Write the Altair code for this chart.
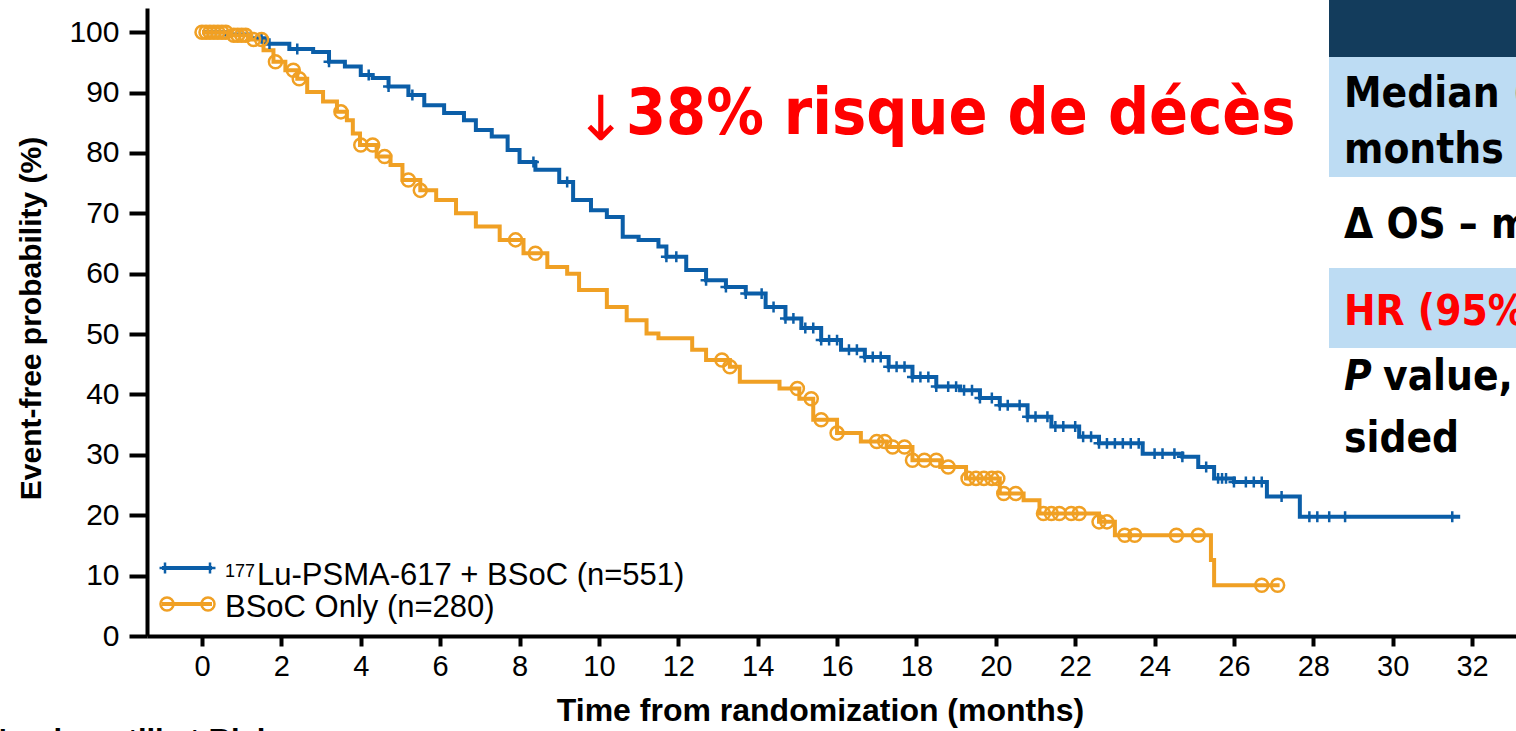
import altair as alt
import pandas as pd

# ---------------- data ----------------
blue_t = [0, 0.6, 1.2, 1.6, 2.2, 2.8, 3.2, 3.6, 4.0, 4.3, 4.7, 5.2, 5.6, 6.1, 6.6, 6.9, 7.3,
          7.7, 8.0, 8.4, 9.0, 9.35, 9.8, 10.2, 10.6, 11.0, 11.5, 11.7, 12.2, 12.7, 13.2, 13.7,
          14.2, 14.7, 15.1, 15.6, 16.1, 16.7, 17.3, 17.9, 18.5, 19.1, 19.6, 20.1, 20.8, 21.4,
          22.1, 22.6, 23.7, 24.7, 25.1, 25.5, 26.0, 26.83, 27.66, 31.7]
blue_s = [100, 99.6, 99.0, 98.1, 97.2, 96.7, 95.1, 94.3, 92.9, 92.4, 91.0, 89.6, 87.9, 86.6,
          85.4, 83.8, 82.7, 80.5, 78.5, 77.2, 75.2, 72.2, 70.5, 69.4, 66.1, 65.6, 64.5, 62.8,
          60.6, 58.9, 57.8, 56.7, 54.5, 52.6, 51.0, 49.0, 47.4, 46.2, 44.6, 42.9, 41.3, 40.7,
          39.4, 38.2, 36.3, 34.7, 33.0, 31.9, 30.2, 29.7, 28.0, 26.1, 25.5, 23.1, 19.75, 19.75]

orange_t = [0, 0.7, 1.2, 1.55, 1.8, 2.1, 2.4, 2.65, 3.05, 3.4, 3.65, 3.8, 3.98, 4.4, 4.75,
            5.05, 5.5, 5.9, 6.4, 6.9, 7.5, 8.1, 8.7, 9.2, 9.5, 10.2, 10.7, 11.2, 11.5, 12.35,
            12.7, 13.3, 13.55, 14.55, 15.05, 15.4, 16.0, 16.6, 17.25, 17.9, 18.6, 19.25, 20.1,
            20.7, 21.1, 22.6, 23.0, 25.42, 25.5, 27.15]
orange_s = [100, 99.5, 98.8, 97.0, 95.1, 93.7, 92.3, 90.1, 88.5, 86.8, 85.4, 83.2, 81.3, 79.4,
            78.0, 75.5, 73.8, 72.2, 70.0, 67.8, 65.6, 63.4, 61.1, 60.0, 57.3, 54.5, 52.3, 50.1,
            49.3, 47.4, 45.7, 44.6, 42.1, 41.0, 39.3, 35.8, 33.6, 32.2, 31.3, 29.1, 28.0, 26.1,
            23.6, 22.5, 20.3, 18.9, 16.7, 12.6, 8.4, 8.4]

blue_censor = [1.5, 1.7, 2.4, 3.2, 4.2, 4.7, 5.3, 8.35, 9.2, 11.7, 11.95, 12.7, 13.2, 13.7,
               14.1, 14.4, 14.7, 14.9, 15.2, 15.4, 15.6, 15.8, 16.0, 16.3, 16.5, 16.7, 16.9,
               17.1, 17.3, 17.5, 17.7, 17.9, 18.1, 18.3, 18.5, 18.8, 19.0, 19.2, 19.4, 19.6,
               19.9, 20.1, 20.3, 20.6, 20.8, 21.0, 21.3, 21.5, 21.7, 22.0, 22.2, 22.4, 22.6,
               22.8, 23.0, 23.2, 23.4, 23.6, 24.0, 24.2, 24.5, 24.7, 25.3, 25.6, 25.7, 25.8,
               26.0, 26.3, 26.5, 26.7, 27.2, 27.9, 28.1, 28.4, 28.8, 31.5]
orange_censor = [0.0, 0.1, 0.2, 0.3, 0.4, 0.5, 0.6, 0.8, 0.9, 1.0, 1.1, 1.3, 1.5, 1.85, 2.3,
                 2.45, 3.5, 4.0, 4.3, 4.6, 5.2, 5.5, 7.9, 8.4, 13.1, 13.3, 15.0, 15.35, 15.6,
                 16.0, 17.0, 17.2, 17.4, 17.7, 17.9, 18.2, 18.5, 18.8, 19.3, 19.5, 19.7, 19.9,
                 20.05, 20.2, 20.5, 21.2, 21.4, 21.6, 21.9, 22.1, 22.6, 22.8, 23.25, 23.5,
                 24.55, 25.1, 26.7, 27.1]

x_ticks = [0, 2, 4, 6, 8, 10, 12, 14, 16, 18, 20, 22, 24, 26, 28, 30, 32]
y_ticks = [0, 10, 20, 30, 40, 50, 60, 70, 80, 90, 100]

series_names = ["Lu-PSMA-617 + BSoC (n=551)", "BSoC Only (n=280)"]
annotation = "38% risque de décès"
table_rows = ["Median (95% CI),", "months", "Δ OS – months", "HR (95% CI)", "value, one-", "sided"]

BLUE = "#0b5ea8"
ORANGE = "#f0a024"
RED = "#ff0000"
NAVY = "#133c5c"
LIGHT = "#bddcf3"
SANS = "Liberation Sans, Arial"
TAHOMA = "DejaVu Sans Condensed, DejaVu Sans"


def surv_at(ts, ss, t):
    v = ss[0]
    for ti, si in zip(ts, ss):
        if ti <= t:
            v = si
        else:
            break
    return v


df_blue = pd.DataFrame({"t": blue_t, "s": blue_s})
df_orange = pd.DataFrame({"t": orange_t, "s": orange_s})
df_bc = pd.DataFrame({"t": blue_censor, "s": [surv_at(blue_t, blue_s, c) for c in blue_censor]})
df_oc = pd.DataFrame({"t": orange_censor, "s": [surv_at(orange_t, orange_s, c) for c in orange_censor]})

xscale = alt.Scale(domain=[-1.386, 33.106], nice=False, zero=False)
yscale = alt.Scale(domain=[0, 104], nice=False, zero=True)

xaxis = alt.Axis(values=x_ticks, title="Time from randomization (months)", grid=False,
                 domainColor="black", domainWidth=4, tickColor="black", tickWidth=4,
                 tickSize=10, labelFont=SANS, labelFontSize=29, labelColor="black",
                 labelPadding=6, titleFont=SANS, titleFontSize=32, titleFontWeight="bold",
                 titleColor="black", titleX=673, titleY=74, titleAnchor="start",
                 titleAlign="center", titleBaseline="middle")
yaxis = alt.Axis(values=y_ticks, title="Event-free probability (%)", grid=False,
                 domainColor="black", domainWidth=4, tickColor="black", tickWidth=4,
                 tickSize=18, labelFont=SANS, labelFontSize=30, labelColor="black",
                 labelPadding=10, titleFont=SANS, titleFontSize=30, titleFontWeight="bold",
                 titleColor="black", titleX=-116, titleY=310, titleAngle=270,
                 titleAnchor="start", titleAlign="center", titleBaseline="middle")

blue_line = alt.Chart(df_blue).mark_line(interpolate="step-after", color=BLUE, strokeWidth=4).encode(
    x=alt.X("t:Q", scale=xscale, axis=xaxis),
    y=alt.Y("s:Q", scale=yscale, axis=yaxis),
)
orange_line = alt.Chart(df_orange).mark_line(interpolate="step-after", color=ORANGE, strokeWidth=4).encode(
    x=alt.X("t:Q", scale=xscale), y=alt.Y("s:Q", scale=yscale))

PLUS = "M0,-1L0,1M-1,0L1,0"
blue_pts = alt.Chart(df_bc).mark_point(shape=PLUS, filled=False, color=BLUE, strokeWidth=2.5,
                                       size=120, opacity=1).encode(
    x=alt.X("t:Q", scale=xscale), y=alt.Y("s:Q", scale=yscale))
orange_pts = alt.Chart(df_oc).mark_point(shape="circle", filled=False, color=ORANGE, strokeWidth=2.5,
                                         size=170, opacity=1).encode(
    x=alt.X("t:Q", scale=xscale), y=alt.Y("s:Q", scale=yscale))

one = pd.DataFrame({"a": [0]})


def txt(s, x, y, size, color="black", font=SANS, weight="normal", align="left",
        baseline="alphabetic", style="normal"):
    return alt.Chart(one).mark_text(align=align, baseline=baseline, font=font, fontSize=size,
                                    fontWeight=weight, fontStyle=style, color=color).encode(
        x=alt.value(x), y=alt.value(y), text=alt.value(s))


def rect(x, x2, y, y2, color):
    return alt.Chart(one).mark_rect(color=color).encode(
        x=alt.value(x), x2=alt.value(x2), y=alt.value(y), y2=alt.value(y2))


def hline(x, x2, y, color):
    return alt.Chart(one).mark_rule(color=color, strokeWidth=4).encode(
        x=alt.value(x), x2=alt.value(x2), y=alt.value(y))


def marker(x, y, shape, color, size):
    return alt.Chart(one).mark_point(shape=shape, filled=False, color=color, strokeWidth=2.5,
                                     size=size, opacity=1).encode(x=alt.value(x), y=alt.value(y))


legend = [
    hline(15, 65, 560, BLUE), marker(18, 560, PLUS, BLUE, 120), marker(63, 560, PLUS, BLUE, 120),
    hline(15, 65, 596, ORANGE), marker(20, 596, "circle", ORANGE, 170),
    marker(61, 596, "circle", ORANGE, 170),
    txt("177", 78, 569, 18),
    txt(series_names[0], 110, 577, 31),
    txt(series_names[1], 78, 609, 31),
]

annot = [
    txt("↓", 454, 113, 62, color=RED, font="DejaVu Sans", align="center", baseline="middle"),
    txt(annotation, 479, 126, 64, color=RED, font=TAHOMA, weight="bold"),
]

table = [
    rect(1182, 1369, -8, 49, NAVY),
    rect(1182, 1369, 49, 169, LIGHT),
    rect(1182, 1369, 260, 340, LIGHT),
    txt(table_rows[0], 1197, 99, 42, font=TAHOMA, weight="bold"),
    txt(table_rows[1], 1197, 155, 42, font=TAHOMA, weight="bold"),
    txt(table_rows[2], 1197, 230, 42, font=TAHOMA, weight="bold"),
    txt(table_rows[3], 1197, 317, 42, color=RED, font=TAHOMA, weight="bold"),
    txt("P", 1197, 382, 42, font=TAHOMA, weight="bold", style="italic"),
    txt(table_rows[4], 1236, 382, 42, font=TAHOMA, weight="bold"),
    txt(table_rows[5], 1197, 444, 42, font=TAHOMA, weight="bold"),
]

bottom = [txt("Number still at Risk", 127, 743, 31, weight="bold", align="right")]

chart = alt.layer(blue_line, orange_line, blue_pts, orange_pts, *legend, *annot, *table, *bottom).properties(
    width=1369, height=628, autosize="none",
    padding={"left": 147, "top": 8, "right": 0, "bottom": 95},
    background="white",
).configure_view(stroke=None)

chart.save("out.html", embed_options={"renderer": "svg", "actions": False})
